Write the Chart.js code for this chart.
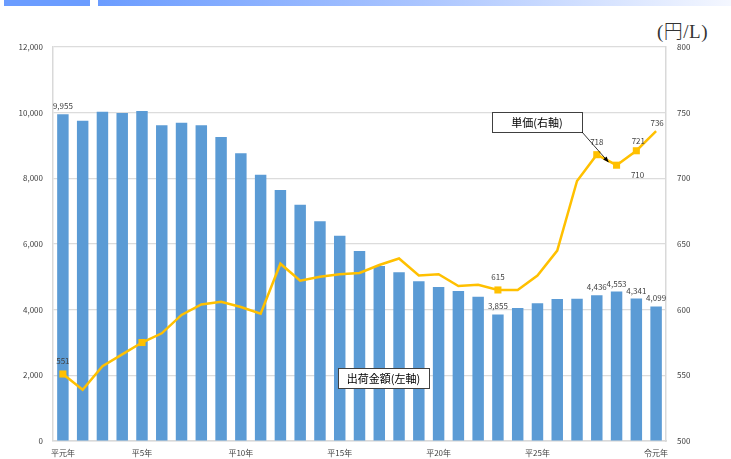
<!DOCTYPE html>
<html>
<head>
<meta charset="utf-8">
<script src="https://cdn.jsdelivr.net/npm/chart.js@4"></script>
<style>
  body { margin: 0; background: #fff; }
  #wrap { position: relative; width: 731px; height: 459px; overflow: hidden; }
  #bar1 { position: absolute; left: 4px; top: 0; width: 86px; height: 6px; background: #6b9cff; }
  #bar2 { position: absolute; left: 98px; top: 0; width: 633px; height: 6px;
          background: linear-gradient(to right, #6b9cff, #a9c4ff 50%, #f4f7ff); }
  #unit { position: absolute; left: 657px; top: 16px; font-family: "Liberation Serif", "Noto Sans CJK JP", serif;
          font-size: 19px; font-weight: 300; color: #333; letter-spacing: 0.5px; }
  canvas { position: absolute; left: 0; top: 0; }
</style>
</head>
<body>
<div id="wrap">
  <div id="bar1"></div>
  <div id="bar2"></div>
  <div id="unit">(円/L)</div>
  <canvas id="myChart" width="731" height="459"></canvas>
</div>
<script>
const years = ['平元年', '', '', '', '平5年', '', '', '', '', '平10年', '', '', '', '', '平15年', '', '', '', '',
  '平20年', '', '', '', '', '平25年', '', '', '', '', '', '令元年'];

// 出荷金額 (left axis)
const shipment = [9955, 9757, 10031, 9991, 10052, 9617, 9696, 9617, 9260, 8763, 8112, 7645, 7198, 6692, 6254,
  5787, 5331, 5138, 4864, 4691, 4569, 4396, 3855, 4051, 4194, 4325, 4335, 4436, 4553, 4341, 4099];

// 単価 (right axis)
const unitPrice = [551, 539, 557, 566, 575, 582, 596, 604, 606, 602, 597, 635, 622, 625, 627, 628, 634, 639,
  626, 627, 618, 619, 615, 615, 626, 645, 698, 718, 710, 721, 736];

const leftTicks = [0, 2000, 4000, 6000, 8000, 10000, 12000];
const rightTicks = [500, 550, 600, 650, 700, 750, 800];

// which points get a marker / a label
const markerIdx = [0, 4, 22, 27, 28, 29];
const barLabelIdx = [0, 22, 27, 28, 29, 30];
const lineLabelIdx = [0, 22, 27, 28, 29, 30];

const FONT = '"Noto Sans CJK JP", "Noto Sans", sans-serif';

const labelPlugin = {
  id: 'labels',
  afterDatasetsDraw(chart) {
    const ctx = chart.ctx;
    ctx.save();
    ctx.font = '8px ' + FONT;
    ctx.fillStyle = '#404040';
    ctx.textAlign = 'center';
    ctx.textBaseline = 'middle';

    const bars = chart.getDatasetMeta(0).data;
    barLabelIdx.forEach(i => {
      ctx.fillText(shipment[i].toLocaleString('en-US'), bars[i].x, bars[i].y - 8);
    });

    const pts = chart.getDatasetMeta(1).data;
    lineLabelIdx.forEach(i => {
      let dx = 0, dy = -13;
      if (i === 28) { dx = 21; dy = 10; }
      if (i === 29) { dx = 2; dy = -10; }
      if (i === 30) { dx = 1; dy = -8; }
      ctx.fillText(String(unitPrice[i]), pts[i].x + dx, pts[i].y + dy);
    });

    // annotation boxes
    ctx.font = '11px ' + FONT;
    function box(text, x, y, w, h) {
      ctx.fillStyle = '#fff';
      ctx.fillRect(x, y, w, h);
      ctx.strokeStyle = '#404040';
      ctx.lineWidth = 1;
      ctx.strokeRect(x + 0.5, y + 0.5, w, h);
      ctx.fillStyle = '#000';
      ctx.fillText(text, x + w / 2, y + h / 2 + 1);
    }
    box('単価(右軸)', 492, 112, 90, 20);
    box('出荷金額(左軸)', 338, 368, 91, 20);

    // arrow from the price box to the H29 point
    const tx = pts[28].x - 8, ty = pts[28].y - 3;
    const sx = 582, sy = 132;
    ctx.strokeStyle = '#000';
    ctx.lineWidth = 0.8;
    ctx.beginPath();
    ctx.moveTo(sx, sy);
    ctx.lineTo(tx, ty);
    ctx.stroke();
    const ang = Math.atan2(ty - sy, tx - sx);
    ctx.beginPath();
    ctx.moveTo(tx, ty);
    ctx.lineTo(tx - 6 * Math.cos(ang - 0.4), ty - 6 * Math.sin(ang - 0.4));
    ctx.lineTo(tx - 6 * Math.cos(ang + 0.4), ty - 6 * Math.sin(ang + 0.4));
    ctx.closePath();
    ctx.fillStyle = '#000';
    ctx.fill();
    ctx.restore();
  }
};

const ctx = document.getElementById('myChart').getContext('2d');
const myChart = new Chart(ctx, {
  type: 'bar',
  data: {
    labels: years,
    datasets: [{
      type: 'bar',
      label: '出荷金額(左軸)',
      data: shipment,
      yAxisID: 'y',
      backgroundColor: '#5b9bd5',
      borderWidth: 0,
      barPercentage: 0.58,
      categoryPercentage: 1,
      order: 1
    }, {
      type: 'line',
      label: '単価(右軸)',
      data: unitPrice,
      yAxisID: 'y1',
      borderColor: '#ffc000',
      backgroundColor: '#ffc000',
      borderWidth: 2.5,
      pointStyle: 'rect',
      pointRadius: unitPrice.map((v, i) => markerIdx.includes(i) ? 5 : 0),
      pointBorderWidth: 0,
      tension: 0,
      order: 0
    }]
  },
  options: {
    responsive: false,
    animation: false,
    layout: { padding: { top: 47, left: 0, right: 0, bottom: 0 } },
    plugins: {
      legend: { display: false },
      tooltip: { enabled: false }
    },
    scales: {
      x: {
        grid: { display: false, drawTicks: false },
        border: { display: true, color: '#d9d9d9', width: 1.5 },
        ticks: {
          autoSkip: false, maxRotation: 0, padding: 7,
          color: '#404040', font: { family: FONT, size: 8 }
        },
        afterFit(scale) { scale.height = 18; }
      },
      y: {
        position: 'left',
        min: 0, max: 12000,
        afterBuildTicks(scale) { scale.ticks = leftTicks.map(v => ({ value: v })); },
        grid: { color: '#dcdcdc', lineWidth: 1.2, drawTicks: false },
        border: { display: true, color: '#d9d9d9', width: 1.5 },
        ticks: {
          padding: 10, color: '#404040', font: { family: FONT, size: 8 },
          callback: v => v.toLocaleString('en-US')
        },
        afterFit(scale) { scale.width = 53; }
      },
      y1: {
        position: 'right',
        min: 500, max: 800,
        afterBuildTicks(scale) { scale.ticks = rightTicks.map(v => ({ value: v })); },
        grid: { display: false, drawTicks: false },
        border: { display: true, color: '#d9d9d9', width: 1.5 },
        ticks: {
          padding: 11, color: '#404040', font: { family: FONT, size: 8 }
        },
        afterFit(scale) { scale.width = 65; }
      }
    }
  },
  plugins: [labelPlugin]
});
</script>
</body>
</html>
